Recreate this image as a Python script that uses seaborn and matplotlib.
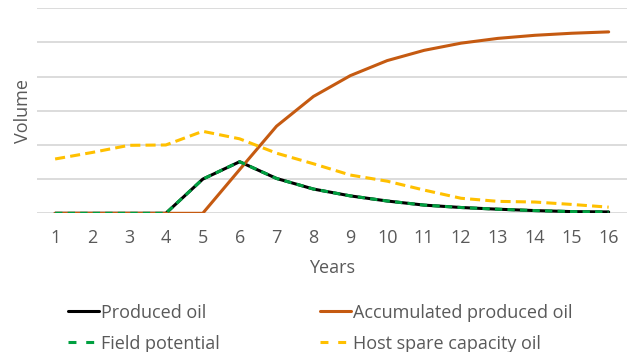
import matplotlib
matplotlib.use("Agg")
import matplotlib.pyplot as plt
import seaborn as sns
import pandas as pd

years = list(range(1, 17))
produced_oil = [0, 0, 0, 0, 1.00, 1.51, 1.02, 0.71, 0.51, 0.36, 0.24, 0.17, 0.12, 0.08, 0.05, 0.04]
field_potential = [0, 0, 0, 0, 1.00, 1.51, 1.02, 0.71, 0.51, 0.36, 0.24, 0.17, 0.12, 0.08, 0.05, 0.04]
accumulated_oil = [0, 0, 0, 0, 0, 1.28, 2.55, 3.42, 4.03, 4.47, 4.77, 4.98, 5.12, 5.21, 5.27, 5.31]
host_spare_capacity = [1.59, 1.78, 1.99, 2.00, 2.40, 2.18, 1.76, 1.45, 1.12, 0.94, 0.68, 0.44, 0.35, 0.33, 0.26, 0.18]

df = pd.DataFrame({
    "Years": years,
    "Produced oil": produced_oil,
    "Accumulated produced oil": accumulated_oil,
    "Field potential": field_potential,
    "Host spare capacity oil": host_spare_capacity,
})

sns.set_theme(style="white")
plt.rcParams["font.family"] = ["Open Sans", "DejaVu Sans"]
text_color = "#595959"
fs = 13

fig = plt.figure(figsize=(6.29, 3.52), dpi=100)
ax = fig.add_axes([0.0583, 0.394, 0.9387, 0.5824])

lw = 2.2
series = [
    ("Produced oil", "black", None),
    ("Accumulated produced oil", "#C55A11", None),
    ("Field potential", "#00A040", (2.4, 1.7)),
    ("Host spare capacity oil", "#FFC000", (3.3, 1.7)),
]
for name, color, dash in series:
    sns.lineplot(data=df, x="Years", y=name, ax=ax, color=color,
                 linewidth=lw, label=name)
    if dash is not None:
        ax.lines[-1].set_dashes(dash)

ax.set_xlim(0.5, 16.5)
ax.set_ylim(0, 6)
ax.set_xticks(years)
ax.set_xticklabels([str(y) for y in years])
ax.set_yticks([0, 1, 2, 3, 4, 5, 6])
ax.set_yticklabels([])
ax.grid(axis="y", color="#D9D9D9", linewidth=1.3)
ax.set_axisbelow(True)
for s in ax.spines.values():
    s.set_visible(False)
ax.tick_params(axis="x", length=0, pad=11, labelsize=fs, labelcolor=text_color)
ax.tick_params(axis="y", length=0)

ax.set_xlabel("Years", fontsize=fs, color=text_color)
ax.xaxis.set_label_coords(0.5, -0.225)
ax.set_ylabel("Volume", fontsize=fs, color=text_color)
ax.yaxis.set_label_coords(-0.008, 0.5)

handles, labels = ax.get_legend_handles_labels()
hmap = dict(zip(labels, handles))
ax.get_legend().remove()

leg_kw = dict(loc="upper left", ncol=1, frameon=False, fontsize=fs,
              handlelength=1.7, handletextpad=0.12, labelspacing=0.73,
              borderpad=0, borderaxespad=0, labelcolor=text_color)
col1 = ["Produced oil", "Field potential"]
col2 = ["Accumulated produced oil", "Host spare capacity oil"]
leg1 = ax.legend([hmap[k] for k in col1], col1, bbox_to_anchor=(0.053, -0.44), **leg_kw)
ax.add_artist(leg1)
leg2 = ax.legend([hmap[k] for k in col2], col2, bbox_to_anchor=(0.48, -0.44), **leg_kw)
# legend samples show two wide dashes
leg1.get_lines()[1].set_dashes((2.6, 3.2))
leg2.get_lines()[1].set_dashes((2.6, 3.2))

fig.savefig("out.png", dpi=100)
